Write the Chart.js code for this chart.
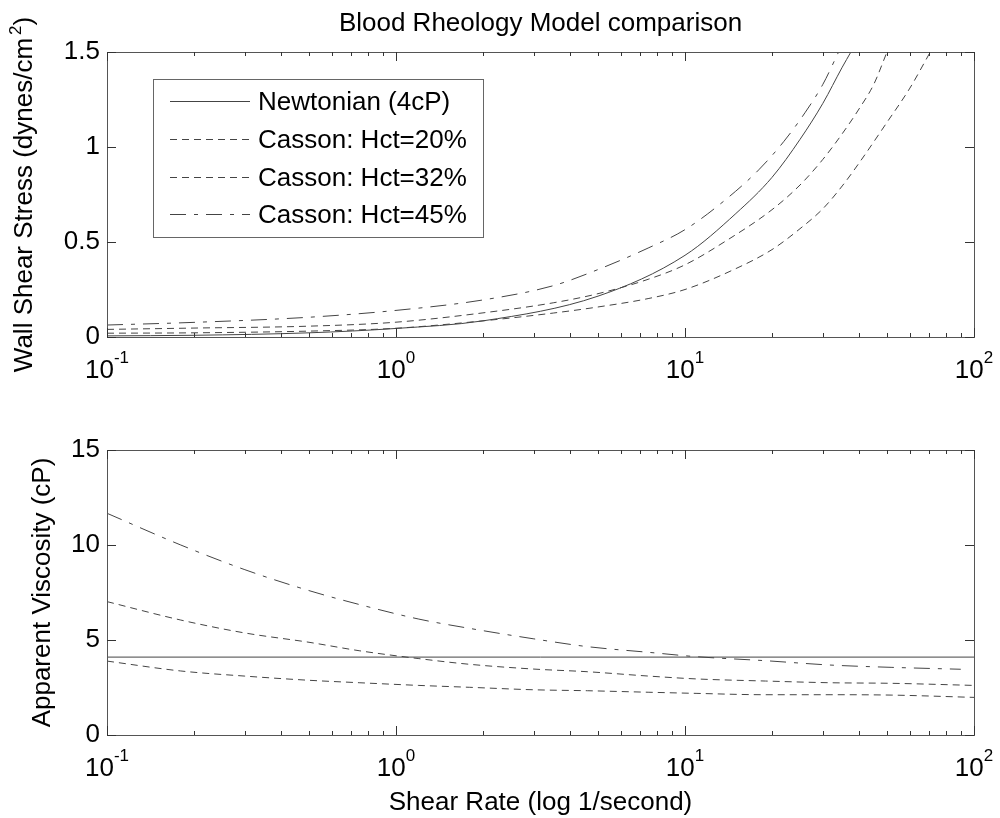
<!DOCTYPE html>
<html>
<head>
<meta charset="utf-8">
<script src="https://cdn.jsdelivr.net/npm/chart.js@4.4.0/dist/chart.umd.min.js"></script>
<style>
  body { margin: 0; background: #fff; }
  #wrap { position: relative; width: 1000px; height: 818px; }
  canvas { position: absolute; left: 0; }
</style>
</head>
<body>
<div id="wrap">
  <canvas id="stressChart" width="1000" height="400" style="top:0"></canvas>
  <canvas id="viscChart" width="1000" height="418" style="top:400px"></canvas>
</div>
<script>
const seriesLabels = ['Newtonian (4cP)', 'Casson: Hct=20%', 'Casson: Hct=32%', 'Casson: Hct=45%'];

// top panel: wall shear stress (dynes/cm^2) against shear rate (1/s)
const newtRate   = [0.1, 0.2, 0.5, 1, 2, 5, 10, 15, 20, 25, 30, 35, 37.5];
const newtStress = [0.006, 0.009, 0.022, 0.045, 0.085, 0.215, 0.43, 0.65, 0.84, 1.04, 1.23, 1.42, 1.5];
const h20Rate    = [0.1, 0.2, 0.5, 1, 2, 3.5, 5, 7.5, 10, 15, 20, 25, 30, 35, 40, 50, 60, 70];
const h20Stress  = [0.02, 0.022, 0.031, 0.046, 0.085, 0.126, 0.158, 0.203, 0.25, 0.36, 0.46, 0.57, 0.675, 0.795, 0.915, 1.13, 1.31, 1.49];
const h32Rate    = [0.1, 0.2, 0.5, 1, 2, 3.5, 5, 7.5, 10, 14, 20, 25, 30, 35, 40, 45, 50];
const h32Stress  = [0.04, 0.047, 0.057, 0.078, 0.127, 0.18, 0.228, 0.305, 0.38, 0.51, 0.67, 0.8, 0.935, 1.07, 1.2, 1.33, 1.5];
const h45Rate    = [0.1, 0.2, 0.5, 1, 2, 3.5, 5, 7.5, 10, 14, 18, 22, 26, 30, 34];
const h45Stress  = [0.063, 0.077, 0.104, 0.14, 0.195, 0.27, 0.355, 0.47, 0.565, 0.73, 0.88, 1.03, 1.18, 1.33, 1.5];

// bottom panel: apparent viscosity (cP)
const newtViscRate = [0.1, 100];
const newtVisc     = [4.1, 4.1];
const viscRate     = [0.1, 0.18, 0.3, 0.5, 0.75, 1.2, 1.8, 3, 4.6, 7.5, 11, 19, 32, 52, 100];
const h20Visc      = [3.89, 3.37, 3.1, 2.88, 2.75, 2.61, 2.51, 2.38, 2.33, 2.25, 2.19, 2.12, 2.12, 2.1, 1.98];
const h32Visc      = [7.02, 6.05, 5.37, 4.88, 4.43, 4.02, 3.72, 3.47, 3.33, 3.1, 2.95, 2.84, 2.75, 2.72, 2.61];
const h45ViscRate  = [0.1, 0.18, 0.3, 0.5, 0.75, 1.2, 1.8, 3, 4.6, 7.5, 11, 19, 32, 52, 90];
const h45Visc      = [11.67, 10.0, 8.7, 7.6, 6.86, 6.1, 5.61, 5.06, 4.65, 4.35, 4.12, 3.91, 3.68, 3.56, 3.46];

// axis ticks
const xTickValues = [0.1, 1, 10, 100];
const xTickExps   = ['-1', '0', '1', '2'];
const stressTicks = [0, 0.5, 1, 1.5];
const viscTicks   = [0, 5, 10, 15];

const FONT = '"Liberation Sans", Arial, Helvetica, sans-serif';
const LINE = '#444';
const dashes = [[], [7, 5], [7, 5], [16, 8, 4, 8]];

Chart.defaults.font.family = FONT;

function pts(xs, ys) {
  return xs.map((x, i) => ({ x: x, y: ys[i] }));
}

function makeSets(pairs) {
  return pairs.map((p, i) => ({
    label: seriesLabels[i],
    data: pts(p[0], p[1]),
    borderColor: LINE,
    borderWidth: 1,
    borderDash: dashes[i],
    pointRadius: 0,
    cubicInterpolationMode: 'monotone',
    fill: false
  }));
}

// matlab-like box, inward ticks, superscript tick labels, legend
const matlabAxes = {
  id: 'matlabAxes',
  afterDraw(chart, args, opts) {
    const ctx = chart.ctx, a = chart.chartArea;
    const xs = chart.scales.x, ys = chart.scales.y;
    ctx.save();
    ctx.strokeStyle = '#555';
    ctx.lineWidth = 1;
    ctx.strokeRect(Math.round(a.left) + 0.5, Math.round(a.top) + 0.5,
      Math.round(a.right - a.left), Math.round(a.bottom - a.top));

    ctx.strokeStyle = '#333';
    ctx.beginPath();
    for (let d = 0; d < xTickValues.length; d++) {
      const base = xTickValues[d];
      for (let k = 1; k < 10; k++) {
        const v = base * k;
        if (v > xs.max * 1.0001) break;
        const px = Math.round(xs.getPixelForValue(v)) + 0.5;
        const len = k === 1 ? 9 : 4;
        ctx.moveTo(px, a.bottom); ctx.lineTo(px, a.bottom - len);
        ctx.moveTo(px, a.top); ctx.lineTo(px, a.top + len);
      }
    }
    ys.ticks.forEach(t => {
      const py = Math.round(ys.getPixelForValue(t.value)) + 0.5;
      ctx.moveTo(a.left, py); ctx.lineTo(a.left + 9, py);
      ctx.moveTo(a.right, py); ctx.lineTo(a.right - 9, py);
    });
    ctx.stroke();

    // x tick labels 10^n
    ctx.fillStyle = '#000';
    ctx.textBaseline = 'alphabetic';
    ctx.textAlign = 'left';
    xTickValues.forEach((v, i) => {
      const px = xs.getPixelForValue(v);
      ctx.font = '26px ' + FONT;
      const wb = ctx.measureText('10').width;
      ctx.font = '17px ' + FONT;
      const we = ctx.measureText(xTickExps[i]).width;
      const x0 = px - (wb + we) / 2;
      ctx.font = '26px ' + FONT;
      ctx.fillText('10', x0, a.bottom + 41);
      ctx.font = '17px ' + FONT;
      ctx.fillText(xTickExps[i], x0 + wb, a.bottom + 26);
    });

    // y title, rotated, with optional superscript
    const parts = opts.yTitle;
    ctx.save();
    ctx.translate(opts.yTitleX, (a.top + a.bottom) / 2);
    ctx.rotate(-Math.PI / 2);
    ctx.font = '26px ' + FONT;
    const w0 = ctx.measureText(parts[0]).width;
    const w2 = parts[2] ? ctx.measureText(parts[2]).width : 0;
    ctx.font = '17px ' + FONT;
    const w1 = parts[1] ? ctx.measureText(parts[1]).width + 3 : 0;
    let x = -(w0 + w1 + w2) / 2;
    ctx.font = '26px ' + FONT;
    ctx.fillText(parts[0], x, 0);
    if (parts[1]) {
      ctx.font = '17px ' + FONT;
      ctx.fillText(parts[1], x + w0 + 3, -11);
      ctx.font = '26px ' + FONT;
      ctx.fillText(parts[2], x + w0 + w1, 0);
    }
    ctx.restore();

    ctx.font = '26px ' + FONT;
    ctx.textAlign = 'center';
    if (opts.title) {
      ctx.fillText(opts.title, (a.left + a.right) / 2, 31);
    }
    if (opts.xTitle) {
      ctx.fillText(opts.xTitle, (a.left + a.right) / 2, a.bottom + 75);
    }

    if (opts.legend) {
      const L = opts.legend;
      ctx.fillStyle = '#fff';
      ctx.fillRect(L.x, L.y, L.w, L.h);
      ctx.strokeStyle = '#666';
      ctx.strokeRect(L.x + 0.5, L.y + 0.5, L.w, L.h);
      ctx.textAlign = 'left';
      ctx.textBaseline = 'middle';
      chart.data.datasets.forEach((ds, i) => {
        const cy = Math.round(L.y + 22 + i * 37.8) + 0.5;
        ctx.strokeStyle = LINE;
        ctx.setLineDash(ds.borderDash);
        ctx.beginPath();
        ctx.moveTo(L.x + 17, cy); ctx.lineTo(L.x + 97, cy);
        ctx.stroke();
        ctx.setLineDash([]);
        ctx.fillStyle = '#000';
        ctx.fillText(ds.label, L.x + 105, cy + 1);
      });
    }
    ctx.restore();
  }
};

function makeChart(id, sets, yMax, yTicks, plotTop, xAxisHeight, extra) {
  return new Chart(document.getElementById(id), {
    type: 'line',
    data: { datasets: sets },
    options: {
      responsive: false,
      animation: false,
      devicePixelRatio: 1,
      layout: { padding: { left: 0, top: plotTop, right: 26, bottom: 0 } },
      plugins: {
        legend: { display: false },
        tooltip: { enabled: false },
        matlabAxes: extra
      },
      scales: {
        x: {
          type: 'logarithmic',
          min: 0.1,
          max: 100,
          grid: { display: false, drawTicks: false },
          border: { display: false },
          ticks: { display: false },
          afterFit: s => { s.height = xAxisHeight; }
        },
        y: {
          type: 'linear',
          min: 0,
          max: yMax,
          grid: { display: false, drawTicks: false },
          border: { display: false },
          afterBuildTicks: s => { s.ticks = yTicks.map(v => ({ value: v })); },
          ticks: {
            color: '#000',
            font: { size: 26 },
            padding: 7,
            callback: v => String(v)
          },
          afterFit: s => { s.width = 107; }
        }
      }
    },
    plugins: [matlabAxes]
  });
}

makeChart('stressChart',
  makeSets([[newtRate, newtStress], [h20Rate, h20Stress], [h32Rate, h32Stress], [h45Rate, h45Stress]]),
  1.5, stressTicks, 52, 63,
  {
    title: 'Blood Rheology Model comparison',
    yTitle: ['Wall Shear Stress (dynes/cm', '2', ')'],
    yTitleX: 32,
    legend: { x: 153, y: 79, w: 330, h: 158 }
  });

makeChart('viscChart',
  makeSets([[newtViscRate, newtVisc], [viscRate, h20Visc], [viscRate, h32Visc], [h45ViscRate, h45Visc]]),
  15, viscTicks, 50, 83,
  {
    yTitle: ['Apparent Viscosity (cP)'],
    yTitleX: 50,
    xTitle: 'Shear Rate (log 1/second)'
  });
</script>
</body>
</html>
